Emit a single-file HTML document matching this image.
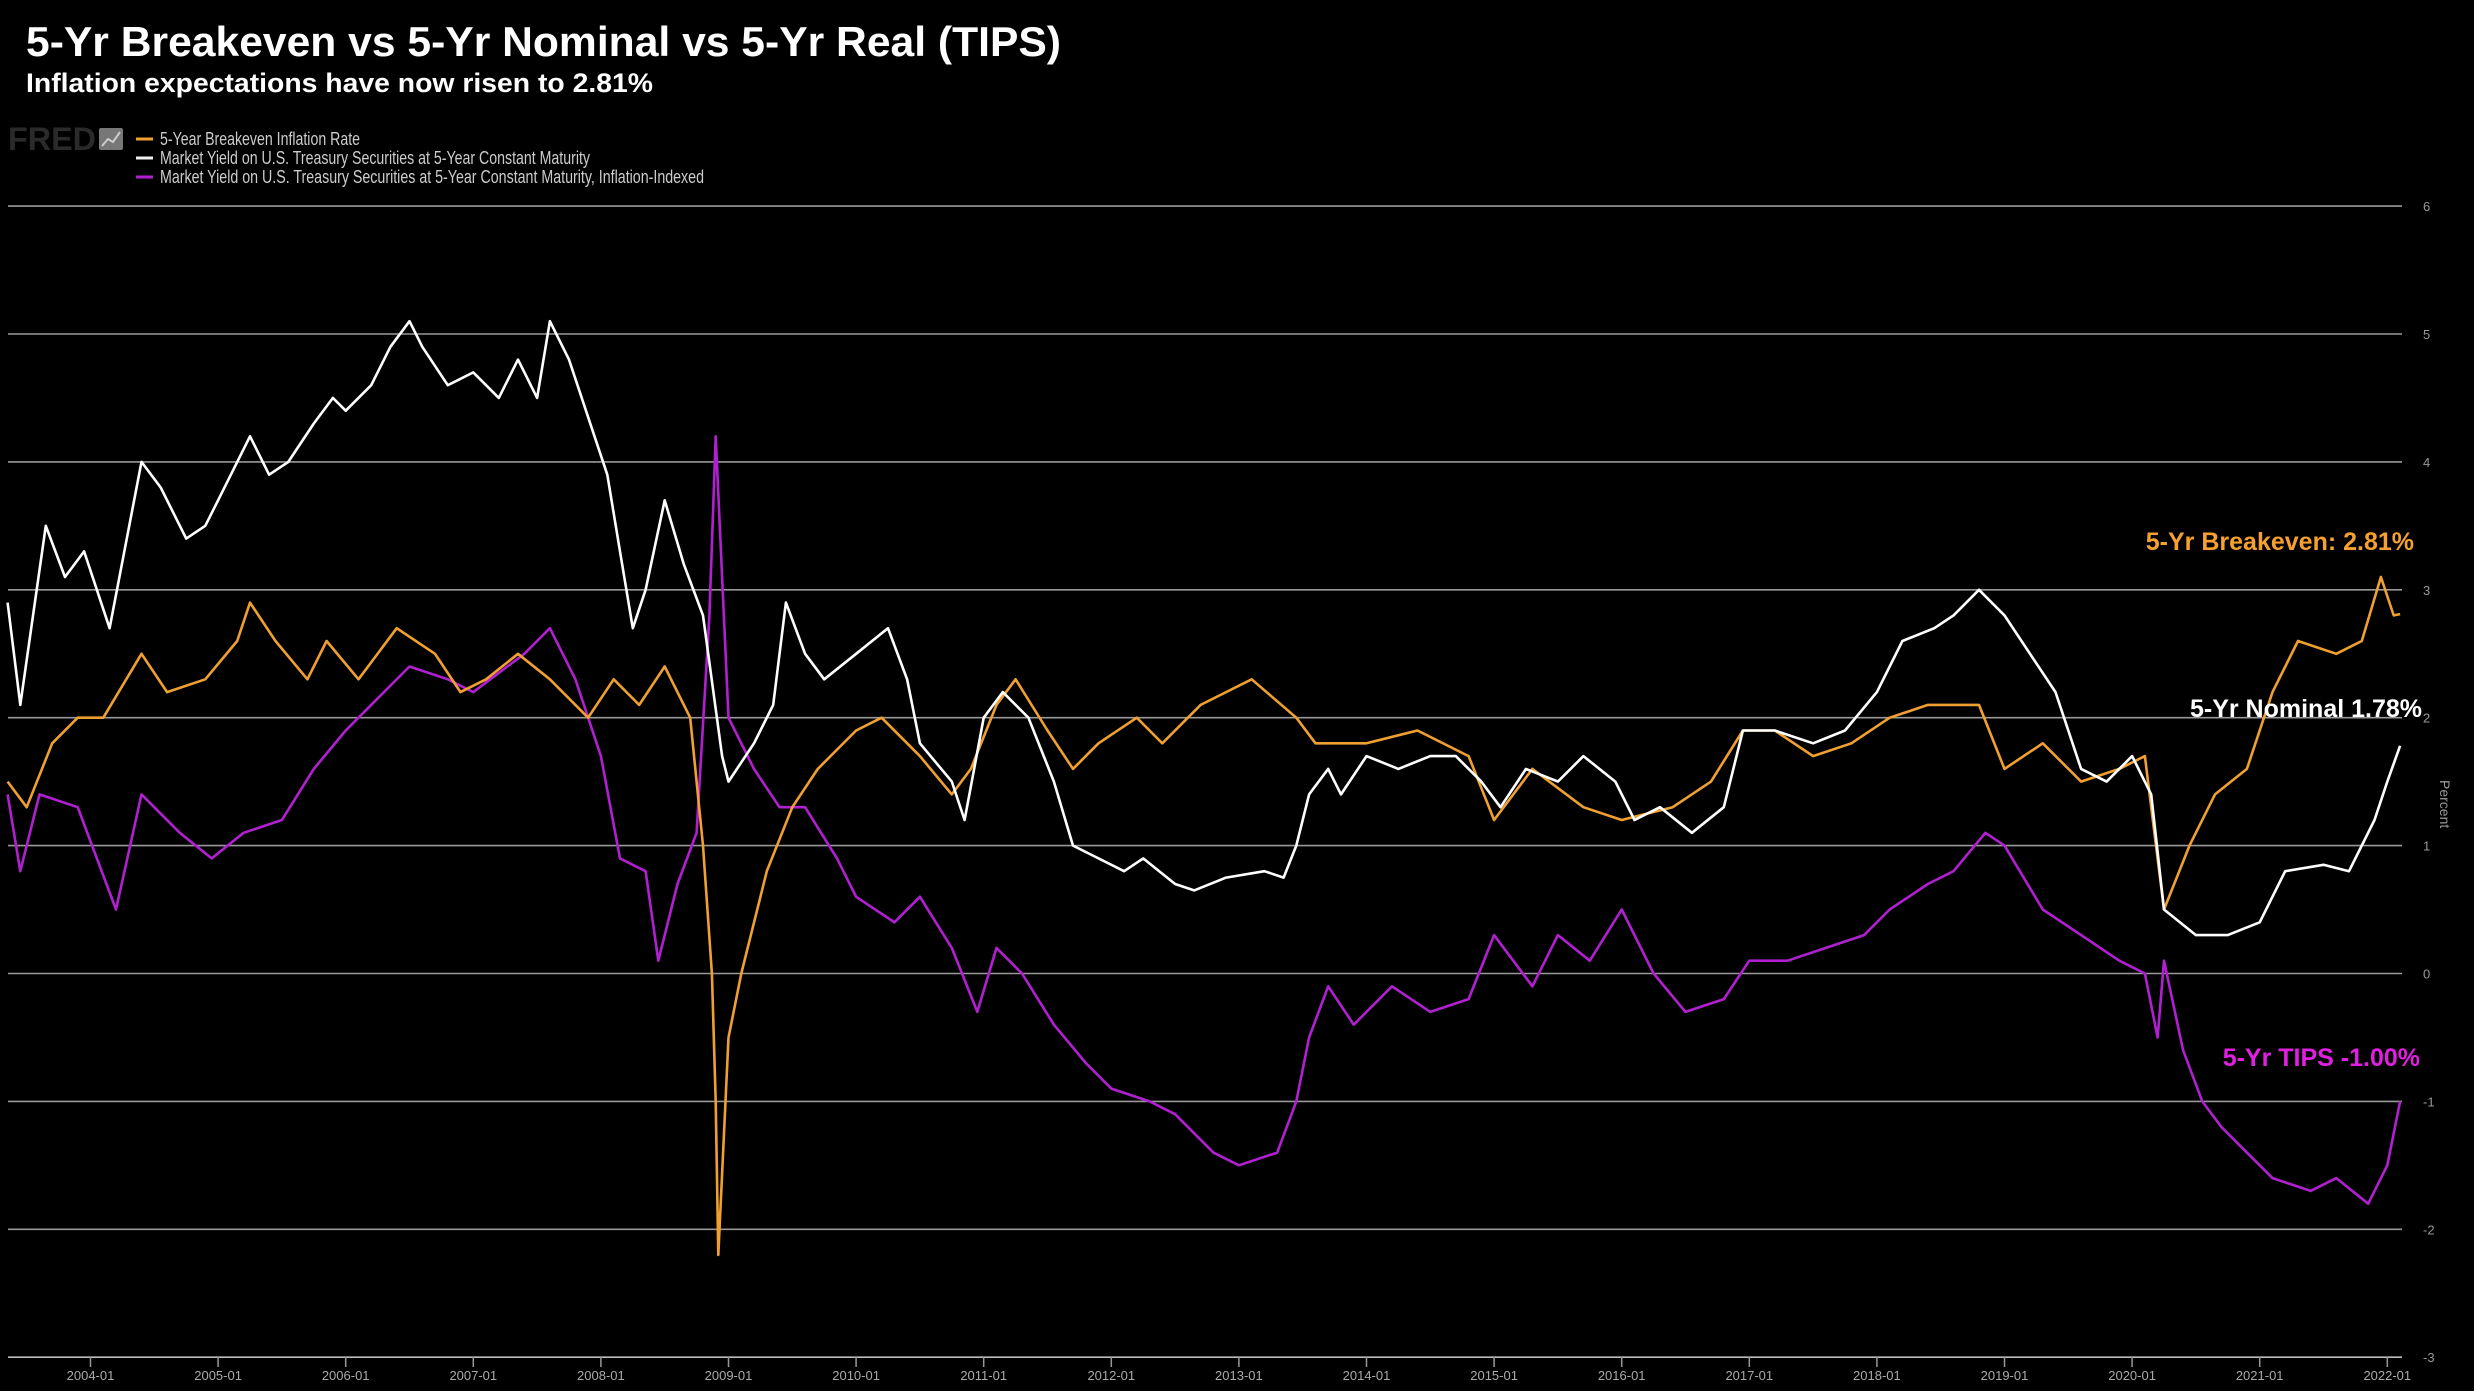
<!DOCTYPE html>
<html><head><meta charset="utf-8"><style>
html,body{margin:0;padding:0;background:#000;}
svg{display:block;font-family:"Liberation Sans",sans-serif;}
</style></head><body>
<svg id="chart" width="2474" height="1391" viewBox="0 0 2474 1391" xmlns="http://www.w3.org/2000/svg">
<rect width="2474" height="1391" fill="#000"/>
<text x="26" y="56" fill="#fff" font-size="42" font-weight="bold" textLength="1035" lengthAdjust="spacingAndGlyphs">5-Yr Breakeven vs 5-Yr Nominal vs 5-Yr Real (TIPS)</text>
<text x="26" y="92" fill="#fff" font-size="27" font-weight="bold" textLength="627" lengthAdjust="spacingAndGlyphs">Inflation expectations have now risen to 2.81%</text>
<g>
<text x="8" y="150" fill="#2a2a2a" font-size="32" font-weight="bold" textLength="88" lengthAdjust="spacingAndGlyphs">FRED</text>
<rect x="99" y="128" width="24" height="22" fill="#777" rx="2"/>
<polyline points="102,146 108,139 113,142 120,132" stroke="#ccc" stroke-width="2" fill="none"/>
</g>
<g font-size="18" fill="#ccc">
<g><line x1="136" y1="139" x2="153" y2="139" stroke="#f0a030" stroke-width="3"/><text x="160" y="145" textLength="200" lengthAdjust="spacingAndGlyphs">5-Year Breakeven Inflation Rate</text></g>
<g><line x1="136" y1="158" x2="153" y2="158" stroke="#eee" stroke-width="3"/><text x="160" y="164" textLength="430" lengthAdjust="spacingAndGlyphs">Market Yield on U.S. Treasury Securities at 5-Year Constant Maturity</text></g>
<g><line x1="136" y1="177" x2="153" y2="177" stroke="#b020d0" stroke-width="3"/><text x="160" y="183" textLength="544" lengthAdjust="spacingAndGlyphs">Market Yield on U.S. Treasury Securities at 5-Year Constant Maturity, Inflation-Indexed</text></g>
</g>
<g id="grid"></g>
<g id="yticks"></g>
<g id="xticks"></g>
<text x="2440" y="780" fill="#999" font-size="14" transform="rotate(90 2440 780)">Percent</text>
<g id="series"></g>
<text x="2414" y="550" fill="#f5a030" font-size="25" font-weight="bold" text-anchor="end">5-Yr Breakeven: 2.81%</text>
<text x="2422" y="717" fill="#fff" font-size="25" font-weight="bold" text-anchor="end">5-Yr Nominal 1.78%</text>
<text x="2420" y="1066" fill="#e020e0" font-size="25" font-weight="bold" text-anchor="end">5-Yr TIPS -1.00%</text>
</svg>
<script>
const yTickValues=[6,5,4,3,2,1,0,-1,-2,-3];
const xTickYears=[2004,2005,2006,2007,2008,2009,2010,2011,2012,2013,2014,2015,2016,2017,2018,2019,2020,2021,2022];
const nominalDates=[2003.35,2003.45,2003.65,2003.8,2003.95,2004.15,2004.4,2004.55,2004.75,2004.9,2005.0,2005.25,2005.4,2005.55,2005.75,2005.9,2006.0,2006.2,2006.35,2006.5,2006.6,2006.8,2007.0,2007.2,2007.35,2007.5,2007.6,2007.75,2007.95,2008.05,2008.15,2008.25,2008.35,2008.5,2008.65,2008.8,2008.95,2009.0,2009.2,2009.35,2009.45,2009.6,2009.75,2010.0,2010.25,2010.4,2010.5,2010.75,2010.85,2011.0,2011.15,2011.35,2011.55,2011.7,2011.9,2012.1,2012.25,2012.5,2012.65,2012.9,2013.2,2013.35,2013.45,2013.55,2013.7,2013.8,2014.0,2014.25,2014.5,2014.7,2014.9,2015.05,2015.25,2015.5,2015.7,2015.95,2016.1,2016.3,2016.55,2016.8,2016.95,2017.2,2017.5,2017.75,2018.0,2018.2,2018.45,2018.6,2018.8,2019.0,2019.2,2019.4,2019.6,2019.8,2020.0,2020.15,2020.25,2020.5,2020.75,2021.0,2021.2,2021.5,2021.7,2021.9,2022.0,2022.1];
const nominalValues=[2.9,2.1,3.5,3.1,3.3,2.7,4.0,3.8,3.4,3.5,3.7,4.2,3.9,4.0,4.3,4.5,4.4,4.6,4.9,5.1,4.9,4.6,4.7,4.5,4.8,4.5,5.1,4.8,4.2,3.9,3.3,2.7,3.0,3.7,3.2,2.8,1.7,1.5,1.8,2.1,2.9,2.5,2.3,2.5,2.7,2.3,1.8,1.5,1.2,2.0,2.2,2.0,1.5,1.0,0.9,0.8,0.9,0.7,0.65,0.75,0.8,0.75,1.0,1.4,1.6,1.4,1.7,1.6,1.7,1.7,1.5,1.3,1.6,1.5,1.7,1.5,1.2,1.3,1.1,1.3,1.9,1.9,1.8,1.9,2.2,2.6,2.7,2.8,3.0,2.8,2.5,2.2,1.6,1.5,1.7,1.4,0.5,0.3,0.3,0.4,0.8,0.85,0.8,1.2,1.5,1.78];
const breakevenDates=[2003.35,2003.5,2003.7,2003.9,2004.1,2004.4,2004.6,2004.9,2005.15,2005.25,2005.45,2005.7,2005.85,2006.1,2006.4,2006.7,2006.9,2007.1,2007.35,2007.6,2007.9,2008.1,2008.3,2008.5,2008.7,2008.8,2008.87,2008.9,2008.92,2009.0,2009.1,2009.3,2009.5,2009.7,2010.0,2010.2,2010.5,2010.75,2010.9,2011.1,2011.25,2011.5,2011.7,2011.9,2012.2,2012.4,2012.7,2012.9,2013.1,2013.45,2013.6,2014.0,2014.4,2014.8,2015.0,2015.3,2015.7,2016.0,2016.4,2016.7,2016.95,2017.2,2017.5,2017.8,2018.1,2018.4,2018.8,2019.0,2019.3,2019.6,2019.9,2020.1,2020.15,2020.25,2020.45,2020.65,2020.9,2021.1,2021.3,2021.6,2021.8,2021.95,2022.05,2022.1];
const breakevenValues=[1.5,1.3,1.8,2.0,2.0,2.5,2.2,2.3,2.6,2.9,2.6,2.3,2.6,2.3,2.7,2.5,2.2,2.3,2.5,2.3,2.0,2.3,2.1,2.4,2.0,1.0,0.0,-1.0,-2.2,-0.5,0.0,0.8,1.3,1.6,1.9,2.0,1.7,1.4,1.6,2.1,2.3,1.9,1.6,1.8,2.0,1.8,2.1,2.2,2.3,2.0,1.8,1.8,1.9,1.7,1.2,1.6,1.3,1.2,1.3,1.5,1.9,1.9,1.7,1.8,2.0,2.1,2.1,1.6,1.8,1.5,1.6,1.7,1.3,0.5,1.0,1.4,1.6,2.2,2.6,2.5,2.6,3.1,2.8,2.81];
const tipsDates=[2003.35,2003.45,2003.6,2003.9,2004.2,2004.4,2004.7,2004.95,2005.2,2005.5,2005.75,2006.0,2006.2,2006.5,2006.8,2007.0,2007.4,2007.6,2007.8,2008.0,2008.15,2008.35,2008.45,2008.6,2008.75,2008.85,2008.9,2009.0,2009.2,2009.4,2009.6,2009.85,2010.0,2010.3,2010.5,2010.75,2010.95,2011.1,2011.3,2011.55,2011.8,2012.0,2012.3,2012.5,2012.8,2013.0,2013.3,2013.45,2013.55,2013.7,2013.9,2014.2,2014.5,2014.8,2015.0,2015.3,2015.5,2015.75,2016.0,2016.25,2016.5,2016.8,2017.0,2017.3,2017.6,2017.9,2018.1,2018.4,2018.6,2018.85,2019.0,2019.3,2019.6,2019.9,2020.1,2020.2,2020.25,2020.4,2020.55,2020.7,2020.9,2021.1,2021.4,2021.6,2021.85,2022.0,2022.1];
const tipsValues=[1.4,0.8,1.4,1.3,0.5,1.4,1.1,0.9,1.1,1.2,1.6,1.9,2.1,2.4,2.3,2.2,2.5,2.7,2.3,1.7,0.9,0.8,0.1,0.7,1.1,2.8,4.2,2.0,1.6,1.3,1.3,0.9,0.6,0.4,0.6,0.2,-0.3,0.2,0.0,-0.4,-0.7,-0.9,-1.0,-1.1,-1.4,-1.5,-1.4,-1.0,-0.5,-0.1,-0.4,-0.1,-0.3,-0.2,0.3,-0.1,0.3,0.1,0.5,0.0,-0.3,-0.2,0.1,0.1,0.2,0.3,0.5,0.7,0.8,1.1,1.0,0.5,0.3,0.1,0.0,-0.5,0.1,-0.6,-1.0,-1.2,-1.4,-1.6,-1.7,-1.6,-1.8,-1.5,-1.0];

const NS="http://www.w3.org/2000/svg";
const xScale=y=>90.5+(y-2004)*127.6;
const yScale=v=>973.5-127.9*v;
const grid=document.getElementById('grid'),yt=document.getElementById('yticks'),xt=document.getElementById('xticks'),ser=document.getElementById('series');
yTickValues.forEach(v=>{
  const l=document.createElementNS(NS,'line');
  
  
  l.setAttribute('x1',8);l.setAttribute('x2',2402);l.setAttribute('y1',yScale(v));l.setAttribute('y2',yScale(v));
  l.setAttribute('stroke',v===-3?'#bbb':'#999');l.setAttribute('stroke-width',1.6);
  grid.appendChild(l);
  const t=document.createElementNS(NS,'text');
  
  
  t.setAttribute('x',2423);t.setAttribute('y',yScale(v)+5);t.setAttribute('fill','#999');t.setAttribute('font-size','13');
  t.textContent=v;yt.appendChild(t);
});
xTickYears.forEach(y=>{
  const l=document.createElementNS(NS,'line');
  
  
  l.setAttribute('x1',xScale(y));l.setAttribute('x2',xScale(y));l.setAttribute('y1',1357);l.setAttribute('y2',1367);
  l.setAttribute('stroke','#999');l.setAttribute('stroke-width',1.5);xt.appendChild(l);
  const t=document.createElementNS(NS,'text');
  
  
  t.setAttribute('x',xScale(y));t.setAttribute('y',1380);t.setAttribute('fill','#aaa');t.setAttribute('font-size','13');t.setAttribute('text-anchor','middle');
  t.textContent=y+'-01';xt.appendChild(t);
});
function drawLine(dates,vals,color,name){
  const p=document.createElementNS(NS,'polyline');
  
  
  p.setAttribute('points',dates.map((d,i)=>xScale(d).toFixed(1)+','+yScale(vals[i]).toFixed(1)).join(' '));
  p.setAttribute('fill','none');p.setAttribute('stroke',color);p.setAttribute('stroke-width',2.6);p.setAttribute('stroke-linejoin','round');
  ser.appendChild(p);
}
drawLine(tipsDates,tipsValues,'#b020d0','tips-line');
drawLine(breakevenDates,breakevenValues,'#f0a030','breakeven-line');
drawLine(nominalDates,nominalValues,'#ffffff','nominal-line');
</script>
</body></html>
